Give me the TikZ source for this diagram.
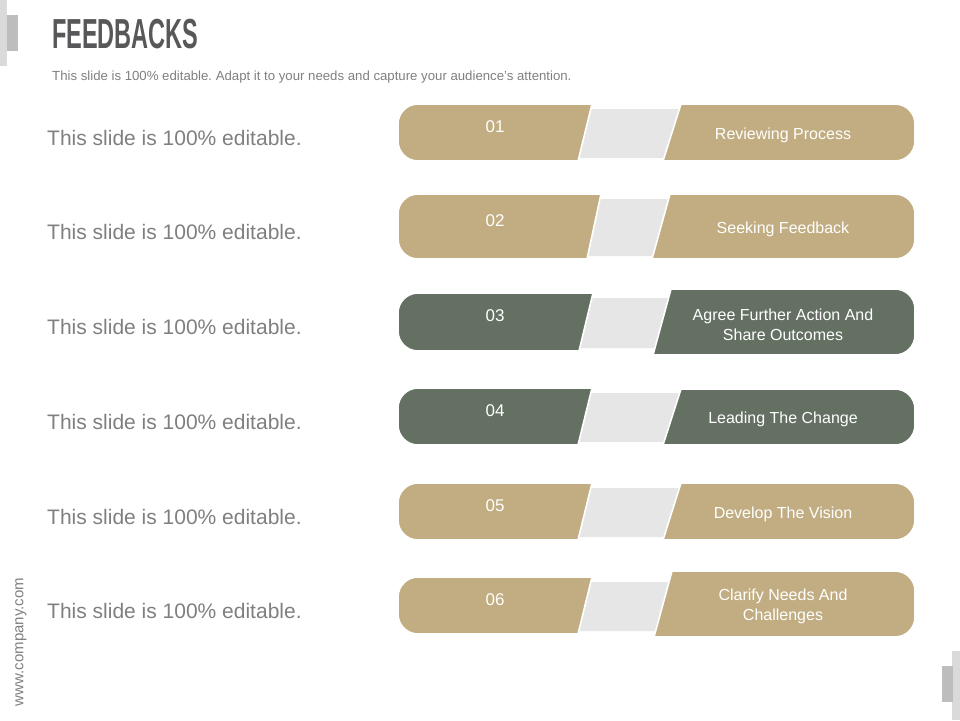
\documentclass[tikz,border=0pt]{standalone}
\usepackage{fontspec}
\setmainfont{Liberation Sans}
\usepackage{xcolor}
\usepackage{tikz}
\usetikzlibrary{calc}
\definecolor{sand}{HTML}{C1AD81}
\definecolor{sage}{HTML}{637062}
\definecolor{band}{HTML}{E6E6E6}
\definecolor{title}{HTML}{58585A}
\definecolor{muted}{HTML}{7F7F7F}
\definecolor{barlight}{HTML}{DADADA}
\definecolor{bardark}{HTML}{BDBDBD}
\frenchspacing
\tikzset{
  piece/.style={draw=white, line width=1.6pt},
  gap/.style={fill=band},
  numlbl/.style={text=white, font=\fontsize{17}{20}\selectfont, inner sep=0pt},
  steplbl/.style={text=white, font=\fontsize{16}{20}\selectfont, align=center, inner sep=0pt},
  sidetxt/.style={text=muted, font=\fontsize{21}{25}\selectfont, anchor=west, inner sep=0pt},
  small/.style={text=muted, font=\fontsize{13.2}{16}\selectfont, inner sep=0pt}
}

\begin{document}
\begin{tikzpicture}[x=1pt, y=-1pt]
  \useasboundingbox (0,0) rectangle (960,720);

  % corner bars
  \fill[barlight] (0,0) rectangle (7,66);
  \fill[bardark] (7,15) rectangle (18,51);
  \fill[barlight] (952,651) rectangle (960,720);
  \fill[bardark] (942,666) rectangle (953,702);

  \node[text=title, anchor=base west, inner sep=0pt] (head) at (52,48)
    {\scalebox{0.56}[1]{\fontsize{42}{42}\selectfont\bfseries FEEDBACKS}};
  \node[small, anchor=base west] (sub) at (52,80)
    {This slide is 100\% editable. Adapt it to your needs and capture your audience's attention.};
  \node[text=muted, font=\fontsize{15}{18}\selectfont, rotate=90, inner sep=0pt] (web) at (21,642) {www.company.com};

  % rows: left top/bottom, right top/bottom, slant x left/right
  \foreach \n/\yt/\yb/\rt/\rb/\ls/\rs/\col/\txt in {
      01/104/161/104/161/592/681/sand/{Reviewing Process},
      02/194/259/194/259/601/670/sand/{Seeking Feedback},
      03/293/351/289/355/593/671/sage/{Agree Further Action And\\Share Outcomes},
      04/388/445/389/445/592/681/sage/{Leading The Change},
      05/483/540/483/540/592/681/sand/{Develop The Vision},
      06/577/634/571/637/592/672/sand/{Clarify Needs And\\Challenges}} {
    \fill[gap] (\ls-30,\yt+5) -- (\rs+5,\yt+5) -- (\rs-13,\yb-3) -- (\ls-30,\yb-3) -- cycle;
    \filldraw[piece, fill=\col] (\ls,\yt) -- (\ls-14,\yb) -- (418,\yb)
      arc[start angle=90, end angle=180, radius=20] -- (398,\yt+20)
      arc[start angle=180, end angle=270, radius=20] -- cycle;
    \filldraw[piece, fill=\col] (\rs,\rt) -- (895,\rt)
      arc[start angle=270, end angle=360, radius=20] -- (915,\rb-20)
      arc[start angle=0, end angle=90, radius=20] -- (\rs-18,\rb) -- cycle;
    \node[numlbl] (num\n) at (495,{(\yt+\yb)/2-6}) {\n};
    \node[steplbl] (lbl\n) at (783,{(\rt+\rb)/2+2.5}) {\txt};
    \node[sidetxt] (side\n) at (47,{(\yt+\yb)/2+5}) {This slide is 100\% editable.};
  }
\end{tikzpicture}
\end{document}
